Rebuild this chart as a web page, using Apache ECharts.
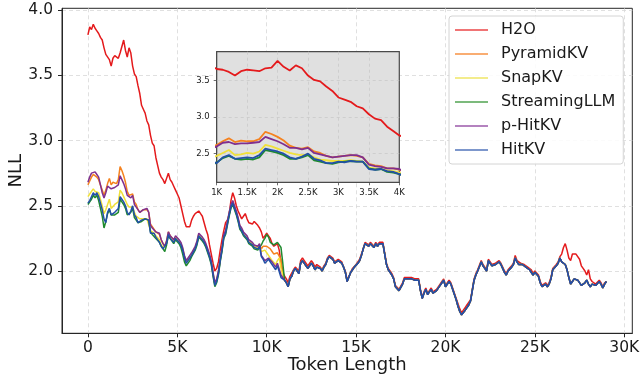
<!DOCTYPE html>
<html>
<head>
<meta charset="utf-8">
<script src="https://cdn.jsdelivr.net/npm/echarts@6/dist/echarts.min.js"></script>
<style>
  html, body { margin: 0; padding: 0; background: #ffffff; }
  #chart { width: 640px; height: 377px; }
</style>
</head>
<body>
<div id="chart"></div>
<script>
// Per-token NLL, one sample every STEP tokens, starting at token 0.
const STEP = 100;

const seriesNames = ['H2O', 'PyramidKV', 'SnapKV', 'StreamingLLM', 'p-HitKV', 'HitKV'];

// H2O: first 11K tokens
const h2oHead = [
  3.81, 3.87, 3.85, 3.89, 3.86, 3.84, 3.82, 3.79, 3.77, 3.71,
  3.66, 3.65, 3.62, 3.57, 3.63, 3.65, 3.64, 3.63, 3.67, 3.68,
  3.77, 3.69, 3.64, 3.71, 3.67, 3.57, 3.51, 3.49, 3.42, 3.36,
  3.27, 3.24, 3.21, 3.15, 3.12, 3.04, 2.98, 2.96, 2.87, 2.81,
  2.75, 2.72, 2.70, 2.67, 2.71, 2.75, 2.70, 2.68, 2.65, 2.62,
  2.59, 2.56, 2.50, 2.44, 2.38, 2.34, 2.35, 2.34, 2.39, 2.42,
  2.44, 2.45, 2.46, 2.44, 2.42, 2.37, 2.32, 2.28, 2.20, 2.13,
  2.06, 2.00, 2.02, 2.07, 2.16, 2.24, 2.31, 2.37, 2.39, 2.43,
  2.54, 2.60, 2.56, 2.50, 2.46, 2.43, 2.40, 2.42, 2.44, 2.40,
  2.37, 2.38, 2.36, 2.38, 2.37, 2.35, 2.33, 2.30, 2.25, 2.27,
  2.29, 2.27, 2.25, 2.21, 2.19, 2.18, 2.21, 2.16, 2.06, 1.99
];

// H2O: tokens 11K to 29K
const h2oTail = [
  1.96, 1.94, 1.91, 1.96, 1.97, 2.01, 2.03, 2.04, 2.00, 2.08,
  2.10, 2.08, 2.07, 2.04, 2.05, 2.08, 2.06, 2.03, 2.05, 2.05,
  2.03, 2.01, 2.04, 2.06, 2.10, 2.12, 2.11, 2.10, 2.07, 2.08,
  2.09, 2.08, 2.07, 2.03, 2.00, 1.93, 1.93, 1.99, 2.02, 2.03,
  2.05, 2.07, 2.09, 2.13, 2.17, 2.22, 2.23, 2.20, 2.22, 2.21,
  2.19, 2.22, 2.20, 2.22, 2.21, 2.22, 2.14, 2.06, 2.02, 2.00,
  1.98, 1.95, 1.89, 1.88, 1.86, 1.87, 1.91, 1.95, 1.96, 1.95,
  1.96, 1.95, 1.96, 1.94, 1.93, 1.94, 1.86, 1.80, 1.84, 1.87,
  1.83, 1.85, 1.87, 1.84, 1.84, 1.86, 1.85, 1.90, 1.92, 1.94,
  1.89, 1.90, 1.93, 1.91, 1.87, 1.83, 1.79, 1.75, 1.71, 1.68,
  1.70, 1.72, 1.74, 1.76, 1.78, 1.86, 1.94, 1.98, 2.01, 2.02,
  2.08, 2.05, 2.03, 2.01, 2.09, 2.07, 2.05, 2.04, 2.06, 2.07,
  2.08, 2.06, 2.03, 2.00, 1.98, 2.01, 2.02, 2.04, 2.06, 2.12,
  2.08, 2.07, 2.06, 2.06, 2.05, 2.04, 2.03, 2.02, 2.01, 1.98,
  2.00, 2.01, 1.97, 1.92, 1.89, 1.90, 1.91, 1.89, 1.91, 1.95,
  2.02, 2.03, 2.05, 2.07, 2.11, 2.13, 2.18, 2.21, 2.16, 2.10,
  2.08, 2.13, 2.14, 2.13, 2.12, 2.09, 2.04, 2.02, 2.00, 1.97,
  2.01, 1.94, 1.92, 1.92, 1.90, 1.91, 1.93, 1.91, 1.88, 1.91,
  1.92
];

// The other five methods: first 11K tokens each
const pyramidKVHead = [
  2.66, 2.69, 2.72, 2.74, 2.73, 2.72, 2.70, 2.66, 2.62, 2.58,
  2.62, 2.67, 2.71, 2.66, 2.68, 2.67, 2.67, 2.70, 2.80, 2.77,
  2.73, 2.68, 2.61, 2.58, 2.57, 2.59, 2.53, 2.51, 2.47, 2.45,
  2.46, 2.47, 2.48, 2.47, 2.45, 2.36, 2.34, 2.33, 2.30, 2.30,
  2.28, 2.24, 2.21, 2.19, 2.23, 2.30, 2.27, 2.26, 2.24, 2.26,
  2.25, 2.23, 2.21, 2.17, 2.11, 2.07, 2.09, 2.11, 2.13, 2.14,
  2.18, 2.22, 2.28, 2.27, 2.25, 2.23, 2.20, 2.16, 2.12, 2.07,
  1.98, 1.90, 1.93, 1.99, 2.09, 2.17, 2.27, 2.30, 2.37, 2.44,
  2.50, 2.53, 2.49, 2.45, 2.40, 2.34, 2.32, 2.29, 2.30, 2.26,
  2.23, 2.24, 2.21, 2.19, 2.20, 2.18, 2.20, 2.17, 2.19, 2.20,
  2.19, 2.18, 2.17, 2.15, 2.13, 2.12, 2.14, 2.15, 2.09, 1.98
];

const snapKVHead = [
  2.57, 2.59, 2.61, 2.63, 2.61, 2.62, 2.60, 2.55, 2.50, 2.44,
  2.47, 2.51, 2.55, 2.48, 2.49, 2.51, 2.50, 2.53, 2.62, 2.60,
  2.57, 2.54, 2.51, 2.49, 2.48, 2.49, 2.45, 2.42, 2.41, 2.40,
  2.40, 2.40, 2.41, 2.40, 2.39, 2.31, 2.30, 2.29, 2.27, 2.26,
  2.24, 2.20, 2.18, 2.17, 2.22, 2.29, 2.26, 2.25, 2.23, 2.26,
  2.25, 2.23, 2.21, 2.17, 2.11, 2.07, 2.09, 2.11, 2.13, 2.14,
  2.18, 2.22, 2.28, 2.27, 2.25, 2.23, 2.20, 2.16, 2.12, 2.07,
  1.98, 1.90, 1.93, 1.99, 2.09, 2.17, 2.27, 2.30, 2.37, 2.44,
  2.50, 2.53, 2.49, 2.45, 2.40, 2.34, 2.32, 2.29, 2.30, 2.26,
  2.23, 2.24, 2.21, 2.19, 2.20, 2.18, 2.20, 2.15, 2.16, 2.16,
  2.14, 2.12, 2.10, 2.08, 2.07, 2.05, 2.08, 2.10, 2.02, 1.97
];

const streamingLLMHead = [
  2.51, 2.53, 2.55, 2.58, 2.56, 2.58, 2.54, 2.48, 2.42, 2.33,
  2.38, 2.44, 2.47, 2.43, 2.42, 2.43, 2.42, 2.45, 2.55, 2.53,
  2.51, 2.48, 2.43, 2.43, 2.45, 2.48, 2.41, 2.39, 2.37, 2.36,
  2.38, 2.39, 2.40, 2.39, 2.39, 2.30, 2.28, 2.29, 2.25, 2.24,
  2.22, 2.19, 2.17, 2.15, 2.20, 2.27, 2.25, 2.24, 2.21, 2.24,
  2.23, 2.21, 2.18, 2.13, 2.07, 2.04, 2.03, 2.08, 2.11, 2.12,
  2.16, 2.20, 2.26, 2.25, 2.23, 2.21, 2.18, 2.14, 2.10, 2.05,
  1.96, 1.88, 1.91, 1.97, 2.07, 2.15, 2.25, 2.28, 2.35, 2.42,
  2.48, 2.51, 2.47, 2.43, 2.38, 2.32, 2.30, 2.27, 2.28, 2.24,
  2.21, 2.22, 2.19, 2.17, 2.18, 2.16, 2.18, 2.20, 2.23, 2.25,
  2.28, 2.26, 2.22, 2.21, 2.20, 2.19, 2.22, 2.21, 2.18, 2.06
];

const pHitKVHead = [
  2.68, 2.72, 2.75, 2.76, 2.76, 2.74, 2.72, 2.66, 2.60, 2.56,
  2.60, 2.65, 2.66, 2.63, 2.64, 2.64, 2.65, 2.66, 2.73, 2.70,
  2.67, 2.63, 2.58, 2.58, 2.56, 2.58, 2.51, 2.49, 2.47, 2.45,
  2.46, 2.47, 2.48, 2.48, 2.45, 2.35, 2.33, 2.32, 2.30, 2.30,
  2.29, 2.24, 2.21, 2.19, 2.23, 2.30, 2.27, 2.26, 2.24, 2.27,
  2.26, 2.24, 2.22, 2.18, 2.12, 2.08, 2.10, 2.12, 2.14, 2.15,
  2.19, 2.23, 2.29, 2.28, 2.26, 2.24, 2.21, 2.17, 2.13, 2.08,
  1.99, 1.91, 1.94, 2.00, 2.10, 2.18, 2.28, 2.31, 2.38, 2.45,
  2.51, 2.54, 2.50, 2.46, 2.41, 2.35, 2.33, 2.30, 2.31, 2.27,
  2.24, 2.25, 2.22, 2.20, 2.21, 2.19, 2.21, 2.12, 2.10, 2.08,
  2.09, 2.10, 2.11, 2.07, 2.06, 2.03, 2.06, 2.05, 1.97, 1.96
];

const hitKVHead = [
  2.52, 2.54, 2.55, 2.60, 2.58, 2.60, 2.57, 2.52, 2.47, 2.40,
  2.37, 2.45, 2.48, 2.43, 2.44, 2.45, 2.44, 2.48, 2.57, 2.55,
  2.53, 2.50, 2.45, 2.43, 2.46, 2.50, 2.43, 2.41, 2.37, 2.37,
  2.39, 2.38, 2.40, 2.39, 2.39, 2.29, 2.28, 2.29, 2.26, 2.25,
  2.22, 2.19, 2.17, 2.16, 2.21, 2.28, 2.25, 2.24, 2.22, 2.25,
  2.24, 2.22, 2.20, 2.16, 2.10, 2.06, 2.08, 2.10, 2.12, 2.13,
  2.17, 2.21, 2.27, 2.26, 2.24, 2.22, 2.19, 2.15, 2.11, 2.06,
  1.97, 1.89, 1.92, 1.98, 2.08, 2.16, 2.26, 2.29, 2.36, 2.43,
  2.49, 2.52, 2.48, 2.44, 2.39, 2.33, 2.31, 2.28, 2.29, 2.25,
  2.22, 2.23, 2.20, 2.18, 2.19, 2.17, 2.19, 2.11, 2.09, 2.06,
  2.07, 2.09, 2.10, 2.05, 2.04, 2.01, 2.04, 2.03, 1.95, 1.94
];

// Tokens 11K to 29K, where the five cache methods coincide
const sharedTail = [
  1.93, 1.91, 1.88, 1.94, 1.96, 2.00, 2.02, 2.03, 1.98, 2.06,
  2.08, 2.06, 2.05, 2.02, 2.03, 2.06, 2.04, 2.01, 2.03, 2.03,
  2.02, 2.00, 2.03, 2.05, 2.09, 2.11, 2.10, 2.09, 2.06, 2.07,
  2.08, 2.07, 2.06, 2.03, 1.99, 1.92, 1.93, 1.99, 2.01, 2.03,
  2.04, 2.06, 2.08, 2.12, 2.17, 2.21, 2.22, 2.19, 2.21, 2.20,
  2.18, 2.21, 2.19, 2.21, 2.20, 2.21, 2.13, 2.05, 2.01, 1.99,
  1.97, 1.94, 1.88, 1.87, 1.85, 1.86, 1.90, 1.94, 1.95, 1.94,
  1.95, 1.94, 1.95, 1.93, 1.92, 1.93, 1.85, 1.79, 1.83, 1.86,
  1.82, 1.84, 1.86, 1.83, 1.83, 1.85, 1.84, 1.89, 1.91, 1.93,
  1.88, 1.89, 1.92, 1.90, 1.86, 1.82, 1.78, 1.73, 1.69, 1.665,
  1.68, 1.70, 1.72, 1.74, 1.77, 1.85, 1.93, 1.97, 2.00, 2.01,
  2.07, 2.04, 2.02, 2.00, 2.08, 2.06, 2.04, 2.03, 2.05, 2.06,
  2.07, 2.05, 2.02, 1.99, 1.97, 2.00, 2.01, 2.03, 2.05, 2.10,
  2.07, 2.05, 2.05, 2.05, 2.04, 2.03, 2.02, 2.01, 2.00, 1.97,
  1.99, 2.00, 1.96, 1.91, 1.88, 1.89, 1.90, 1.88, 1.90, 1.94,
  2.01, 2.02, 2.04, 2.06, 2.10, 2.07, 2.06, 2.05, 2.01, 1.95,
  1.90, 1.92, 1.94, 1.95, 1.93, 1.92, 1.89, 1.88, 1.91, 1.93,
  1.90, 1.88, 1.90, 1.91, 1.89, 1.90, 1.92, 1.90, 1.87, 1.90,
  1.92
];

// Axis tick labels
const mainXTicks = ['0', '5K', '10K', '15K', '20K', '25K', '30K'];
const insetXTicks = ['1K', '1.5K', '2K', '2.5K', '3K', '3.5K', '4K'];

const curves = [
  h2oHead.concat(h2oTail),
  pyramidKVHead.concat(sharedTail),
  snapKVHead.concat(sharedTail),
  streamingLLMHead.concat(sharedTail),
  pHitKVHead.concat(sharedTail),
  hitKVHead.concat(sharedTail)
];

const lineColors = ['#e41a1c', '#f5821f', '#f0e03a', '#1f8a2e', '#7f2f8f', '#2250a6'];
const legendColors = ['#f07475', '#f9ad72', '#f3ec8c', '#7cba7c', '#b482bf', '#7d97cc'];
const FONT = "'DejaVu Sans', sans-serif";
const INK = '#1a1a1a';

const toPoints = vals => vals.map((v, i) => [i * STEP, v]);

const series = [];
curves.forEach((vals, k) => {
  const pts = toPoints(vals);
  const base = {
    name: seriesNames[k], type: 'line', data: pts, showSymbol: false, symbol: 'none',
    itemStyle: { color: lineColors[k] }, clip: true, animation: false
  };
  series.push(Object.assign({}, base, {
    xAxisIndex: 0, yAxisIndex: 0, z: 2,
    lineStyle: { color: lineColors[k], width: 1.5 }
  }));
  series.push(Object.assign({}, base, {
    xAxisIndex: 1, yAxisIndex: 1, z: 6,
    lineStyle: { color: lineColors[k], width: 1.8 }
  }));
});

const tickK = (v, labels, start, step) => {
  const idx = Math.round((v - start) / step);
  return labels[idx] !== undefined ? labels[idx] : '';
};

const gridLine = { show: true, showMinLine: false, showMaxLine: false };

const chart = echarts.init(document.getElementById('chart'), null, { renderer: 'canvas' });
chart.setOption({
  animation: false,
  backgroundColor: '#ffffff',
  textStyle: { fontFamily: FONT },
  grid: [
    {
      left: 62, right: 7.7, top: 8.3, bottom: 43.7, outerBoundsMode: 'none', containLabel: false,
      show: true, borderColor: '#262626', borderWidth: 1, backgroundColor: 'transparent'
    },
    {
      left: 216.7, top: 51.7, width: 182.6, height: 130.6, outerBoundsMode: 'none', containLabel: false,
      show: true, backgroundColor: '#e0e0e0', borderColor: '#4a4a4a', borderWidth: 1.2, z: 3
    }
  ],
  xAxis: [
    {
      gridIndex: 0, type: 'value', min: -1450, max: 30450, splitNumber: 5,
      name: 'Token Length', nameLocation: 'middle', nameGap: 23, nameMoveOverlap: false,
      nameTextStyle: { fontSize: 18, color: INK, fontFamily: FONT },
      axisLine: { show: true, onZero: false, lineStyle: { color: '#262626', width: 1 } },
      axisTick: { show: true, length: 4, lineStyle: { color: '#262626', width: 1 } },
      axisLabel: {
        margin: 7, fontSize: 15.5, color: INK, fontFamily: FONT,
        showMinLabel: false, showMaxLabel: false,
        formatter: v => tickK(v, mainXTicks, 0, 5000)
      },
      splitLine: Object.assign({}, gridLine, { lineStyle: { color: '#d8d8d8', type: [4, 3], width: 0.8 } })
    },
    {
      gridIndex: 1, type: 'value', min: 1000, max: 4000, interval: 500, z: 4,
      axisLine: { show: true, onZero: false, lineStyle: { color: '#4a4a4a', width: 1 } },
      axisTick: { show: true, length: 3, lineStyle: { color: '#4a4a4a', width: 0.8 } },
      axisLabel: {
        margin: 6, fontSize: 8.5, color: INK, fontFamily: FONT,
        formatter: v => tickK(v, insetXTicks, 1000, 500)
      },
      splitLine: Object.assign({}, gridLine, { lineStyle: { color: '#c6c6c6', type: [3, 3], width: 0.7 } })
    }
  ],
  yAxis: [
    {
      gridIndex: 0, type: 'value', min: 1.523, max: 4.013, splitNumber: 5,
      name: 'NLL', nameLocation: 'middle', nameGap: 37, nameMoveOverlap: false,
      nameTextStyle: { fontSize: 18, color: INK, fontFamily: FONT },
      axisLine: { show: true, onZero: false, lineStyle: { color: '#262626', width: 1 } },
      axisTick: { show: true, length: 4, lineStyle: { color: '#262626', width: 1 } },
      axisLabel: {
        margin: 9, fontSize: 15.5, color: INK, fontFamily: FONT,
        showMinLabel: false, showMaxLabel: false,
        formatter: v => v.toFixed(1)
      },
      splitLine: Object.assign({}, gridLine, { lineStyle: { color: '#d8d8d8', type: [4, 3], width: 0.8 } })
    },
    {
      gridIndex: 1, type: 'value', min: 2.108, max: 3.897, splitNumber: 3, z: 4,
      axisLine: { show: true, onZero: false, lineStyle: { color: '#4a4a4a', width: 1 } },
      axisTick: { show: true, length: 3, lineStyle: { color: '#4a4a4a', width: 0.8 } },
      axisLabel: {
        margin: 7, fontSize: 8.5, color: INK, fontFamily: FONT,
        showMinLabel: false, showMaxLabel: false,
        formatter: v => v.toFixed(1)
      },
      splitLine: Object.assign({}, gridLine, { lineStyle: { color: '#c6c6c6', type: [3, 3], width: 0.7 } })
    }
  ],
  legend: {
    orient: 'vertical', left: 449, top: 16,
    padding: [6, 8, 6, 6], itemGap: 8, itemWidth: 33, itemHeight: 2,
    backgroundColor: 'rgba(255,255,255,0.85)', borderColor: '#d4d4d4', borderWidth: 1, borderRadius: 3,
    textStyle: { fontFamily: FONT, fontSize: 16, color: INK, padding: [0, 0, 0, 8] },
    data: seriesNames.map((n, k) => ({ name: n, icon: 'rect', itemStyle: { color: legendColors[k] } }))
  },
  series: series
});
</script>
</body>
</html>
